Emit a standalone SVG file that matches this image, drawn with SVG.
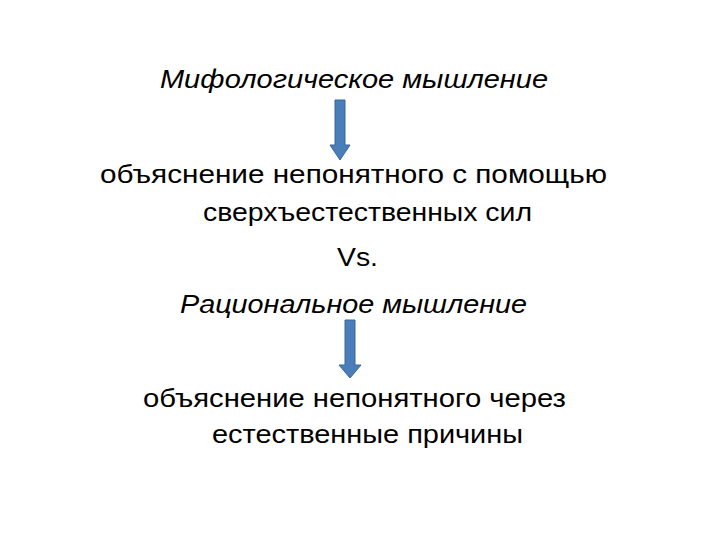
<svg xmlns="http://www.w3.org/2000/svg" width="720" height="540" viewBox="0 0 720 540">
<style>
text{font-family:"Liberation Sans","Noto Sans",sans-serif;font-size:26px;fill:#000}
.it{font-style:italic}
.arrow{fill:#4A7EBB;stroke:#3A6496;stroke-width:1}
</style>
<rect width="720" height="540" fill="#fff"/>
<g id="mythological"><text class="it" x="160" y="88" textLength="388" lengthAdjust="spacingAndGlyphs">Мифологическое мышление</text></g>
<g id="supernatural"><text x="100" y="183" textLength="507" lengthAdjust="spacingAndGlyphs">объяснение непонятного с помощью</text>
<text x="203" y="221" textLength="329" lengthAdjust="spacingAndGlyphs">сверхъестественных сил</text></g>
<g id="vs"><text x="337" y="266" textLength="41" lengthAdjust="spacingAndGlyphs">Vs.</text></g>
<g id="rational"><text class="it" x="180" y="313" textLength="347" lengthAdjust="spacingAndGlyphs">Рациональное мышление</text></g>
<g id="natural"><text x="143" y="407" textLength="423" lengthAdjust="spacingAndGlyphs">объяснение непонятного через</text>
<text x="212" y="443" textLength="311" lengthAdjust="spacingAndGlyphs">естественные причины</text></g>
<g id="connectors">
<path class="arrow" d="M335,100 H345 V145 H350 L340,160 L330,145 H335 Z"/>
<path class="arrow" d="M345,320 H355 V365 H361 L350,378 L339,365 H345 Z"/>
</g>
</svg>
